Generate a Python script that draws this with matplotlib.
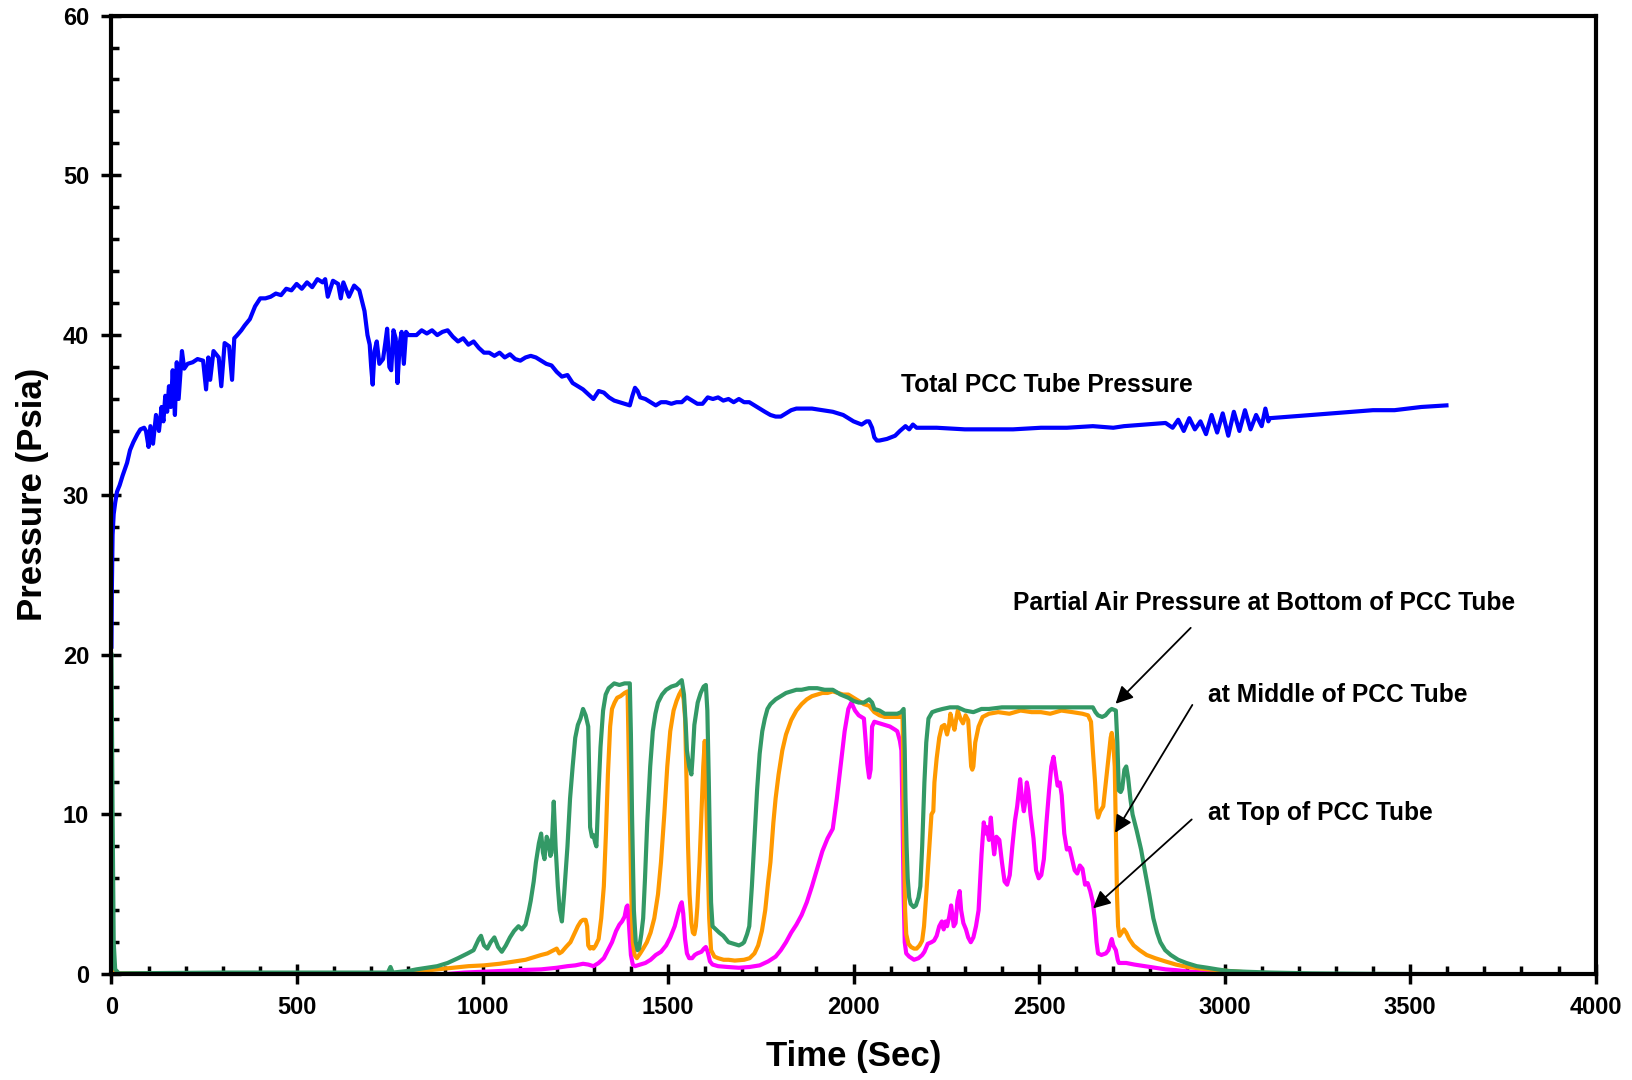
import matplotlib.pyplot as plt
from matplotlib.ticker import MultipleLocator

plt.rcParams['font.family'] = ['Liberation Sans', 'DejaVu Sans']
plt.rcParams['font.weight'] = 'bold'

# =========================
# 数据
# =========================
# Total PCC Tube Pressure
total_t = [0, 1, 3, 6, 10, 15, 22, 30, 42, 50, 59, 70, 78, 88, 93, 100, 105, 112, 120, 128,
           135, 140, 145, 150, 155, 160, 165, 171, 176, 181, 190, 196, 205, 219, 232, 247, 255,
           261, 266, 275, 289, 296, 305, 317, 325, 331, 339, 350, 359, 373, 387, 401, 415, 429,
           443, 457, 471, 485, 499, 513, 527, 541, 555, 569, 576, 583, 597, 611, 618, 625, 640,
           654, 668, 682, 690, 696, 700, 704, 709, 715, 722, 732, 738, 743, 749, 754, 760, 766,
           771, 777, 782, 788, 794, 800, 822, 836, 850, 864, 878, 892, 906, 920, 934, 948, 962,
           976, 990, 1004, 1018, 1032, 1046, 1060, 1074, 1088, 1102, 1116, 1130, 1144, 1158,
           1172, 1186, 1200, 1214, 1229, 1243, 1257, 1271, 1285, 1299, 1313, 1327, 1341, 1355,
           1369, 1383, 1397, 1404, 1411, 1418, 1425, 1439, 1453, 1467, 1481, 1495, 1509, 1523,
           1537, 1551, 1565, 1579, 1593, 1607, 1621, 1635, 1649, 1663, 1677, 1691, 1705, 1719,
           1733, 1747, 1761, 1776, 1790, 1804, 1818, 1832, 1846, 1860, 1888, 1916, 1944, 1972,
           2000, 2022, 2035, 2042, 2050, 2056, 2063, 2070, 2090, 2112, 2125, 2140, 2150, 2160,
           2170, 2182, 2224, 2300, 2365, 2430, 2505, 2575, 2645, 2700, 2729, 2785, 2841, 2860,
           2875, 2890, 2905, 2920, 2935, 2950, 2965, 2980, 2995, 3010, 3025, 3040, 3055, 3070,
           3085, 3100, 3110, 3118, 3122, 3180, 3234, 3290, 3346, 3400, 3458, 3530, 3598]
total_p = [20.5, 24, 27.5, 28.8, 29.5, 30.2, 30.6, 31.2, 32, 32.8, 33.3, 33.8, 34.1, 34.2, 34.0,
           33.0, 34.3, 33.2, 35.0, 34.0, 35.5, 34.6, 36.2, 35.2, 36.8, 35.5, 37.8, 35.0, 38.3,
           36.0, 39.0, 37.9, 38.2, 38.3, 38.5, 38.4, 36.6, 38.6, 37.2, 39.0, 38.6, 36.8, 39.5,
           39.3, 37.2, 39.8, 40.0, 40.3, 40.6, 41.0, 41.8, 42.3, 42.3, 42.4, 42.6, 42.5, 42.9,
           42.8, 43.2, 42.9, 43.3, 43.0, 43.5, 43.3, 43.5, 42.4, 43.4, 43.2, 42.3, 43.3, 42.4,
           43.1, 42.8, 41.5, 40.0, 39.4, 38.0, 36.9, 39.0, 39.6, 38.2, 38.5, 39.5, 40.4, 38.0,
           37.8, 40.3, 39.8, 37.0, 39.5, 40.2, 38.2, 40.2, 40.0, 40.0, 40.3, 40.1, 40.3, 40.0,
           40.2, 40.3, 39.9, 39.6, 39.8, 39.4, 39.6, 39.2, 38.9, 38.9, 38.7, 38.9, 38.6, 38.8,
           38.5, 38.4, 38.6, 38.7, 38.6, 38.4, 38.2, 38.1, 37.7, 37.4, 37.5, 37.0, 36.8, 36.6,
           36.3, 36.0, 36.5, 36.4, 36.1, 35.9, 35.8, 35.7, 35.6, 36.2, 36.7, 36.5, 36.1, 36.0,
           35.8, 35.6, 35.8, 35.8, 35.7, 35.8, 35.8, 36.1, 35.9, 35.7, 35.7, 36.1, 36.0, 36.1,
           35.9, 36.0, 35.8, 36.0, 35.8, 35.8, 35.6, 35.4, 35.2, 35.0, 34.9, 34.9, 35.1, 35.3,
           35.4, 35.4, 35.4, 35.3, 35.2, 35.0, 34.6, 34.4, 34.6, 34.6, 34.2, 33.6, 33.4, 33.4,
           33.5, 33.7, 34.0, 34.3, 34.1, 34.4, 34.2, 34.2, 34.2, 34.1, 34.1, 34.1, 34.2, 34.2,
           34.3, 34.2, 34.3, 34.4, 34.5, 34.2, 34.7, 34.0, 34.8, 34.1, 34.6, 33.8, 35.0, 33.9,
           35.1, 33.7, 35.2, 34.0, 35.3, 34.1, 35.0, 34.3, 35.4, 34.6, 34.8, 34.9, 35.0, 35.1,
           35.2, 35.3, 35.3, 35.5, 35.6]

# Partial Air Pressure at Bottom of PCC Tube
bottom_t = [0, 3, 6, 10, 20, 300, 600, 745, 752, 758, 800, 822, 850, 878, 906, 934, 960, 976,
            990, 996, 1004, 1013, 1022, 1032, 1042, 1052, 1063, 1074, 1085, 1097, 1106, 1116,
            1125, 1130, 1138, 1144, 1152, 1158, 1163, 1167, 1173, 1178, 1183, 1186, 1192, 1197,
            1203, 1208, 1214, 1220, 1229, 1236, 1243, 1250, 1257, 1264, 1271, 1278, 1285, 1288,
            1290, 1295, 1299, 1304, 1307, 1312, 1318, 1325, 1332, 1340, 1355, 1369, 1383, 1397,
            1400, 1403, 1408, 1413, 1418, 1422, 1428, 1433, 1438, 1444, 1452, 1459, 1466, 1473,
            1484, 1495, 1509, 1523, 1537, 1543, 1548, 1551, 1557, 1563, 1566, 1571, 1580, 1588,
            1596, 1602, 1606, 1610, 1613, 1616, 1620, 1629, 1638, 1649, 1663, 1677, 1691, 1700,
            1705, 1713, 1719, 1726, 1733, 1740, 1747, 1754, 1761, 1768, 1776, 1790, 1804, 1818,
            1832, 1846, 1860, 1880, 1902, 1922, 1944, 1965, 1986, 2000, 2014, 2028, 2042, 2050,
            2056, 2070, 2084, 2100, 2118, 2128, 2135, 2138, 2140, 2143, 2146, 2150, 2154, 2162,
            2168, 2175, 2180, 2185, 2191, 2196, 2202, 2212, 2224, 2240, 2260, 2281, 2300, 2323,
            2345, 2365, 2400, 2450, 2505, 2550, 2600, 2645, 2652, 2659, 2670, 2679, 2690, 2696,
            2707, 2711, 2715, 2720, 2724, 2730, 2735, 2740, 2746, 2752, 2763, 2775, 2785, 2797,
            2808, 2818, 2827, 2840, 2855, 2875, 2897, 2925, 2954, 2980, 3010, 3060, 3122, 3234,
            3400, 3598]
bottom_p = [20.0, 10, 2, 0.3, 0.05, 0.1, 0.1, 0.1, 0.45, 0.1, 0.2, 0.3, 0.4, 0.5, 0.7, 1.0,
            1.3, 1.5, 2.2, 2.4, 1.8, 1.6, 2.0, 2.3, 1.7, 1.4, 1.8, 2.3, 2.7, 3.0, 2.8, 3.1, 4.0,
            4.6, 5.8, 7.0, 8.2, 8.8, 7.6, 7.2, 8.6, 8.3, 7.4, 7.6, 10.8, 8.0, 5.5, 4.0, 3.3, 5.0,
            8.0, 11.0, 13.0, 14.8, 15.6, 16.0, 16.6, 16.2, 15.5, 12, 9.2, 8.6, 8.7, 8.2, 8.0, 11,
            14.2, 16.5, 17.5, 17.9, 18.2, 18.1, 18.2, 18.2, 15, 10, 4, 2.0, 1.5, 1.6, 2.5, 3.5, 6,
            9.5, 13, 15.2, 16.3, 17.0, 17.5, 17.8, 18.0, 18.1, 18.4, 17.5, 15.5, 14.0, 13.0,
            12.5, 13.5, 15.6, 17.0, 17.6, 18.0, 18.1, 16.5, 12.0, 8, 4.5, 3.0, 2.8, 2.6, 2.4,
            2.0, 1.9, 1.8, 1.9, 2.0, 2.5, 3.0, 5.5, 8.5, 11.5, 13.8, 15.2, 16.0, 16.6, 16.9,
            17.2, 17.4, 17.6, 17.7, 17.8, 17.8, 17.9, 17.9, 17.8, 17.8, 17.5, 17.3, 17.1, 17.0,
            17.0, 17.2, 17.0, 16.6, 16.5, 16.3, 16.3, 16.3, 16.4, 16.6, 14, 11, 8, 6, 4.8, 4.4,
            4.2, 4.3, 4.8, 5.5, 8, 12, 14.5, 16.0, 16.4, 16.5, 16.6, 16.7, 16.7, 16.5, 16.4,
            16.6, 16.6, 16.7, 16.7, 16.7, 16.7, 16.7, 16.7, 16.4, 16.2, 16.1, 16.2, 16.5, 16.6,
            16.5, 14.5, 11.5, 11.4, 11.6, 12.8, 13.0, 12.3, 11.0, 10.0, 9.0, 7.8, 6.5, 5.0, 3.5,
            2.6, 2.0, 1.5, 1.2, 0.9, 0.7, 0.5, 0.4, 0.3, 0.2, 0.15, 0.1, 0.05, 0.02, 0.0]

# at Middle of PCC Tube
middle_t = [0, 10, 400, 780, 794, 836, 878, 920, 962, 1004, 1046, 1088, 1116, 1130, 1158, 1175,
            1192, 1200, 1207, 1214, 1225, 1237, 1247, 1257, 1265, 1271, 1278, 1282, 1285, 1290,
            1295, 1299, 1305, 1313, 1320, 1327, 1333, 1338, 1344, 1349, 1356, 1363, 1372, 1383,
            1391, 1394, 1397, 1401, 1405, 1410, 1416, 1425, 1433, 1443, 1453, 1463, 1473, 1481,
            1490, 1498, 1506, 1515, 1523, 1530, 1537, 1542, 1546, 1550, 1554, 1558, 1563, 1567,
            1571, 1575, 1579, 1585, 1591, 1595, 1599, 1603, 1607, 1611, 1616, 1625, 1635, 1650,
            1663, 1680, 1705, 1720, 1733, 1743, 1753, 1762, 1770, 1776, 1784, 1790, 1798, 1808,
            1818, 1832, 1846, 1860, 1874, 1888, 1902, 1916, 1930, 1944, 1958, 1972, 1986, 2000,
            2014, 2028, 2042, 2056, 2070, 2084, 2100, 2112, 2125, 2132, 2134, 2136, 2139, 2142,
            2148, 2155, 2163, 2170, 2178, 2185, 2190, 2196, 2203, 2210, 2215, 2218, 2224, 2231,
            2238, 2245, 2252, 2257, 2261, 2266, 2272, 2277, 2281, 2288, 2295, 2302, 2309, 2313,
            2317, 2320, 2323, 2328, 2337, 2348, 2365, 2390, 2420, 2450, 2480, 2505, 2530, 2560,
            2590, 2617, 2632, 2640, 2645, 2651, 2655, 2659, 2665, 2673, 2680, 2687, 2693, 2696,
            2700, 2704, 2707, 2710, 2713, 2717, 2723, 2729, 2735, 2743, 2755, 2771, 2790, 2813,
            2840, 2869, 2900, 2954, 3010, 3066, 3122, 3200]
middle_p = [0.3, 0.05, 0.05, 0.05, 0.1, 0.2, 0.3, 0.4, 0.5, 0.55, 0.65, 0.8, 0.9, 1.0, 1.2,
            1.3, 1.5, 1.6, 1.3, 1.4, 1.7, 2.0, 2.5, 3.0, 3.3, 3.4, 3.4, 3.0, 1.8, 1.6, 1.7, 1.6,
            1.8, 2.2, 3.5, 5.5, 9, 12.5, 15.5, 16.6, 17.0, 17.3, 17.4, 17.6, 17.7, 14, 10, 5,
            2.0, 1.2, 1.0, 1.3, 1.6, 2.0, 2.6, 3.5, 5.0, 7, 10, 13, 15.2, 16.5, 17.1, 17.5, 17.8,
            17.2, 16.0, 12, 8.0, 5, 3.2, 2.6, 2.5, 3.0, 4.2, 7, 10.5, 13, 14.6, 11, 7.0, 3.5,
            1.5, 1.1, 1.0, 0.9, 0.9, 0.85, 0.9, 1.0, 1.3, 1.8, 2.7, 4, 5.8, 7, 9.5, 11, 12.5, 14,
            15.0, 15.9, 16.5, 16.9, 17.2, 17.4, 17.5, 17.6, 17.6, 17.7, 17.6, 17.5, 17.5, 17.3,
            17.1, 16.9, 16.8, 16.4, 16.2, 16.1, 16.1, 16.1, 16.1, 16.2, 13, 8, 4, 2.5, 1.9, 1.7,
            1.6, 1.6, 1.8, 2.1, 3.0, 5.0, 7.5, 10, 10.2, 12.0, 13.5, 14.8, 15.5, 15.6, 15.0,
            15.5, 16.3, 15.8, 15.3, 16.0, 16.5, 16.0, 15.7, 16.2, 15.9, 14.5, 13.0, 12.8, 13.0,
            14.5, 15.5, 16.1, 16.3, 16.4, 16.3, 16.5, 16.4, 16.4, 16.3, 16.5, 16.4, 16.3, 16.2,
            15.8, 14, 12, 10.3, 9.8, 10.2, 10.5, 12.0, 13.5, 14.8, 15.1, 14.5, 13.0, 9.0, 5.0,
            3.0, 2.4, 2.6, 2.8, 2.6, 2.2, 1.8, 1.5, 1.2, 1.0, 0.8, 0.6, 0.45, 0.3, 0.2, 0.1,
            0.03, 0.0]

# at Top of PCC Tube
top_t = [0, 10, 900, 950, 1000, 1046, 1100, 1158, 1200, 1229, 1250, 1271, 1285, 1299, 1313,
         1327, 1338, 1349, 1360, 1369, 1376, 1383, 1388, 1391, 1395, 1400, 1405, 1411, 1425,
         1439, 1453, 1467, 1481, 1495, 1506, 1518, 1527, 1533, 1537, 1541, 1546, 1551, 1557,
         1565, 1572, 1579, 1590, 1597, 1602, 1607, 1613, 1620, 1635, 1660, 1691, 1720, 1747,
         1770, 1790, 1804, 1818, 1832, 1846, 1860, 1874, 1888, 1902, 1916, 1930, 1944, 1955,
         1966, 1976, 1986, 1994, 2004, 2014, 2028, 2033, 2037, 2042, 2046, 2050, 2056, 2070,
         2084, 2098, 2112, 2118, 2125, 2129, 2132, 2135, 2138, 2142, 2150, 2163, 2175, 2185,
         2191, 2200, 2210, 2217, 2224, 2231, 2238, 2243, 2248, 2252, 2258, 2263, 2266, 2270,
         2275, 2280, 2286, 2290, 2296, 2303, 2309, 2316, 2323, 2330, 2337, 2345, 2351, 2356,
         2359, 2365, 2370, 2375, 2379, 2385, 2393, 2400, 2407, 2414, 2421, 2428, 2435, 2441,
         2449, 2454, 2459, 2463, 2467, 2471, 2477, 2485, 2492, 2499, 2506, 2513, 2520, 2527,
         2533, 2539, 2545, 2550, 2556, 2561, 2568, 2575, 2582, 2589, 2596, 2603, 2610, 2617,
         2624, 2631, 2638, 2645, 2650, 2655, 2659, 2668, 2680, 2687, 2693, 2696, 2700, 2707,
         2712, 2715, 2735, 2757, 2785, 2813, 2841, 2869, 2910, 2954, 3000, 3040]
top_p = [0.2, 0.0, 0.0, 0.1, 0.15, 0.2, 0.25, 0.3, 0.4, 0.5, 0.55, 0.65, 0.6, 0.5, 0.7, 1.0,
         1.5, 2.0, 2.7, 3.1, 3.3, 3.6, 4.2, 4.3, 3, 1.2, 0.6, 0.5, 0.6, 0.7, 0.9, 1.2, 1.4, 1.8,
         2.3, 3.0, 3.8, 4.3, 4.5, 3.8, 2.2, 1.3, 1.0, 1.0, 1.2, 1.3, 1.4, 1.6, 1.7, 1.4, 0.8,
         0.6, 0.5, 0.45, 0.4, 0.45, 0.55, 0.8, 1.1, 1.5, 2.0, 2.6, 3.1, 3.7, 4.5, 5.5, 6.6, 7.7,
         8.5, 9.1, 11.0, 13.2, 15.2, 16.6, 17.0, 16.5, 16.2, 16.0, 14.5, 13.2, 12.3, 12.8,
         15.5, 15.8, 15.7, 15.6, 15.5, 15.3, 15.2, 14.6, 14.0, 10, 5, 2.0, 1.3, 1.1, 0.9, 1.0,
         1.2, 1.4, 1.9, 2.0, 2.1, 2.4, 3.0, 3.3, 2.8, 3.3, 3.0, 3.6, 4.3, 3.8, 3.0, 3.2, 4.6,
         5.2, 4.0, 3.2, 2.8, 2.3, 2.0, 2.3, 3.0, 4.0, 7.5, 9.5, 8.8, 9.2, 8.4, 9.8, 8.4, 7.5,
         8.6, 8.4, 7.0, 5.8, 5.6, 6.2, 8.0, 9.6, 10.5, 12.2, 11.0, 10.2, 10.8, 12.0, 11.5,
         10.0, 8.5, 6.5, 6.0, 6.2, 7.2, 9.5, 11.5, 13.0, 13.6, 12.6, 11.8, 12.0, 11.2, 8.8,
         7.8, 7.9, 7.2, 6.5, 6.3, 6.8, 6.6, 5.6, 5.7, 5.2, 4.5, 3.5, 2.0, 1.3, 1.2, 1.3, 1.5,
         2.0, 2.2, 1.8, 1.5, 0.9, 0.7, 0.7, 0.6, 0.5, 0.4, 0.3, 0.25, 0.15, 0.1, 0.05, 0.0]

# =========================
# 画图
# =========================
fig = plt.figure(figsize=(16.32, 10.80), dpi=100)
ax = fig.add_axes([0.0683, 0.0980, 0.9094, 0.8876])

ax.plot(total_t, total_p, color="#0000ff", lw=3.0)
ax.plot(top_t, top_p, color="#ff00ff", lw=3.0)
ax.plot(middle_t, middle_p, color="#ff9900", lw=3.0)
ax.plot(bottom_t, bottom_p, color="#339966", lw=3.0)

ax.set_xlim(0, 4000)
ax.set_ylim(0, 60)
ax.xaxis.set_major_locator(MultipleLocator(500))
ax.xaxis.set_minor_locator(MultipleLocator(100))
ax.yaxis.set_major_locator(MultipleLocator(10))
ax.yaxis.set_minor_locator(MultipleLocator(2))

for side in ["left", "right", "top", "bottom"]:
    ax.spines[side].set_linewidth(3)

ax.tick_params(which="major", direction="inout", length=14, width=2.5,
               labelsize=17, pad=9)
ax.tick_params(which="minor", direction="in", length=6, width=2.5)
ax.tick_params(top=False, right=False, which="both")

ax.set_xlabel("Time (Sec)", fontsize=25, fontweight="bold", labelpad=15)
ax.set_ylabel("Pressure (Psia)", fontsize=25, fontweight="bold", labelpad=10)

# 曲线标注
ax.text(2129, 36.9, "Total PCC Tube Pressure", fontsize=17.7, fontweight="bold", va="center")
ax.text(2429, 23.2, "Partial Air Pressure at Bottom of PCC Tube", fontsize=17.7,
        fontweight="bold", va="center")
ax.text(2954, 17.5, "at Middle of PCC Tube", fontsize=17.7, fontweight="bold", va="center")
ax.text(2954, 10.1, "at Top of PCC Tube", fontsize=17.7, fontweight="bold", va="center")

arrow = dict(arrowstyle="-|>", color="black", lw=1.3, mutation_scale=26)
ax.annotate("", xy=(2701, 16.8), xytext=(2914, 21.8), arrowprops=arrow)
ax.annotate("", xy=(2701, 8.7), xytext=(2917, 17.0), arrowprops=arrow)
ax.annotate("", xy=(2640, 4.0), xytext=(2917, 9.8), arrowprops=arrow)

plt.savefig("out.png", dpi=100)
